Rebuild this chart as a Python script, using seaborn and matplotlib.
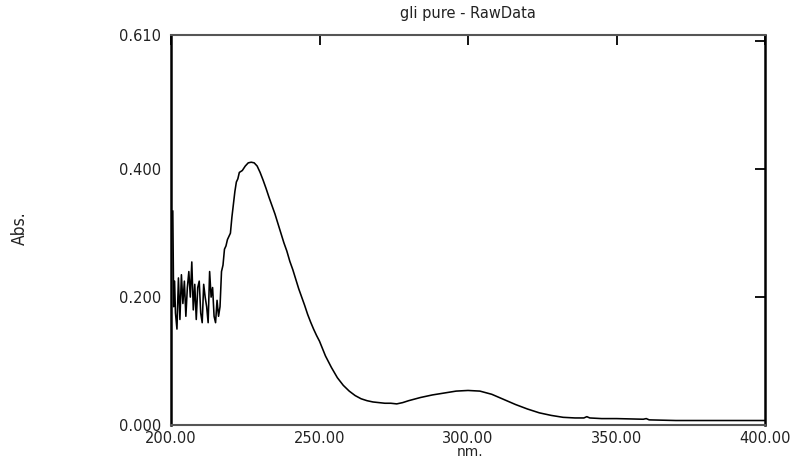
import matplotlib
matplotlib.use("Agg")
import matplotlib.pyplot as plt
import numpy as np
import pandas as pd
import seaborn as sns

# wavelength (nm) and absorbance
wavelength = [
    200.6, 200.9, 201.2, 201.5, 202.0, 202.5, 203.0, 203.5, 204.0, 204.5,
    205.0, 205.5, 206.0, 206.5, 207.0, 207.5, 208.0, 208.5, 209.0, 209.5,
    210.0, 210.5, 211.0, 211.5, 212.0, 212.5, 213.0, 213.5, 214.0, 214.5,
    215.0, 215.5, 216.0, 216.5, 217.0, 217.5, 218.0, 218.5, 219.0, 219.5,
    220.0, 220.5, 221.0, 221.5, 222.0, 222.5, 223.0, 224.0, 225.0, 226.0,
    227.0, 228.0, 229.0, 230.0, 231.0, 232.0, 233.0, 234.0, 235.0, 236.0,
    237.0, 238.0, 239.0, 240.0, 241.0, 242.0, 243.0, 244.0, 245.0, 246.0,
    247.0, 248.0, 249.0, 250.0, 252.0, 254.0, 256.0, 258.0, 260.0, 262.0,
    264.0, 266.0, 268.0, 270.0, 272.0, 274.0, 276.0, 278.0, 280.0, 284.0,
    288.0, 292.0, 296.0, 300.0, 304.0, 308.0, 312.0, 316.0, 320.0, 324.0,
    328.0, 332.0, 336.0, 339.0, 340.0, 341.0, 345.0, 350.0, 359.0, 360.0,
    361.0, 370.0, 380.0, 390.0, 400.0,
]
absorbance = [
    0.335, 0.185, 0.225, 0.175, 0.150, 0.230, 0.165, 0.235, 0.190, 0.225,
    0.170, 0.215, 0.240, 0.200, 0.255, 0.180, 0.220, 0.165, 0.215, 0.225,
    0.175, 0.160, 0.220, 0.200, 0.185, 0.160, 0.240, 0.200, 0.215, 0.170,
    0.160, 0.195, 0.170, 0.185, 0.240, 0.250, 0.275, 0.280, 0.290, 0.295,
    0.300, 0.325, 0.345, 0.365, 0.380, 0.385, 0.395, 0.398, 0.405, 0.410,
    0.411, 0.410, 0.405, 0.395, 0.383, 0.370, 0.356, 0.343, 0.330, 0.315,
    0.300, 0.285, 0.272, 0.256, 0.243, 0.228, 0.213, 0.200, 0.187, 0.173,
    0.161, 0.150, 0.140, 0.131, 0.108, 0.090, 0.074, 0.062, 0.053, 0.046,
    0.041, 0.038, 0.036, 0.035, 0.034, 0.034, 0.033, 0.035, 0.038, 0.043,
    0.047, 0.050, 0.053, 0.054, 0.053, 0.048, 0.040, 0.032, 0.025, 0.019,
    0.015, 0.012, 0.011, 0.011, 0.013, 0.011, 0.010, 0.010, 0.009, 0.010,
    0.008, 0.007, 0.007, 0.007, 0.007,
]

x_ticks = [200, 250, 300, 350, 400]
x_labels = ["200.00", "250.00", "300.00", "350.00", "400.00"]
# tick mark sits at 0.600, the top label reads 0.610 at the frame edge
y_ticks = [0.0, 0.2, 0.4, 0.6, 0.61]
y_labels = ["0.000", "0.200", "0.400", "", "0.610"]

sns.set_style("white")
plt.rcParams["font.family"] = ["DejaVu Sans"]

df = pd.DataFrame({"nm": wavelength, "abs": absorbance})

fig = plt.figure(figsize=(7.98, 4.59), dpi=100)
ax = fig.add_axes([0.2143, 0.0741, 0.7444, 0.8497])
sns.lineplot(data=df, x="nm", y="abs", color="black", linewidth=1.15, ax=ax,
             sort=False)

ax.set_xlim(200, 400)
ax.set_ylim(0, 0.61)
ax.set_xticks(x_ticks)
ax.set_xticklabels(x_labels)
ax.set_yticks(y_ticks)
ax.set_yticklabels(y_labels)

ax.tick_params(axis="both", which="both", direction="in", top=True, right=True,
               length=7, width=1.3, color="black", labelsize=10.5,
               labelcolor="#222222")
ax.tick_params(axis="y", pad=7)
ax.tick_params(axis="x", pad=4)
top_tick = ax.yaxis.get_major_ticks()[-1]
top_tick.tick1line.set_visible(False)
top_tick.tick2line.set_visible(False)

for side in ("left", "right"):
    ax.spines[side].set_color("black")
    ax.spines[side].set_linewidth(1.8)
for side in ("top", "bottom"):
    ax.spines[side].set_color("#555555")
    ax.spines[side].set_linewidth(1.5)

ax.set_xlabel("")
ax.set_ylabel("")
ax.set_title("gli pure - RawData", fontsize=10.5, pad=12, color="#222222")

fig.text(20 / 798, 1 - 228 / 459, "Abs.", rotation=90, ha="center", va="center",
         fontsize=12.5, fontstretch="condensed", color="#222222")
fig.text(470 / 798, 1 - 452 / 459, "nm.", ha="center", va="center",
         fontsize=10, color="#222222")

fig.savefig("out.png", dpi=100, facecolor="white")
